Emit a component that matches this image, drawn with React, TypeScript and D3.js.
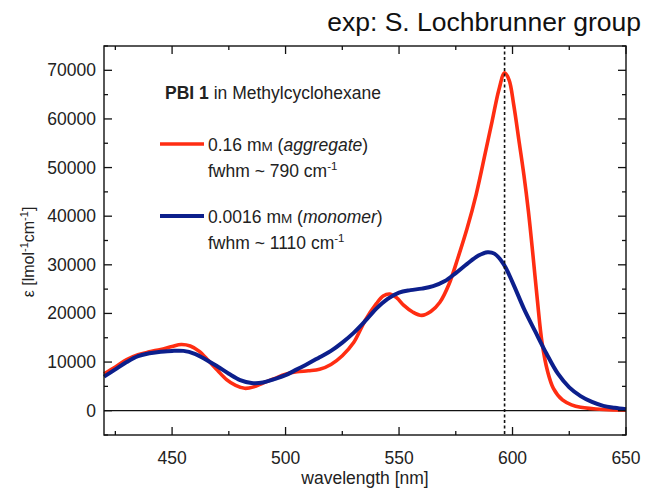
import React from "react";
import * as d3 from "d3";

const aggWl = [420,425,430,435,440,445,450,454,458,462,466,470,474,478,482,486,490,495,500,505,510,515,520,525,530,535,540,543,546,549,552,556,560,564,568,572,576,580,584,588,591,594,596.5,598.5,600.5,603,605,607,609,611,613,615.5,618,622,626,630,640,650];
const aggEps = [7600,9000,10500,11500,12100,12600,13200,13600,13300,12200,10300,8300,6400,5200,4600,4900,5700,6600,7500,8000,8200,8500,9500,11300,14000,18500,22000,23600,24000,23200,21700,20300,19600,20400,22300,26000,31500,37500,44500,53000,59500,66000,69500,68000,63000,55000,48500,41000,32000,22500,14000,8000,4600,2200,1200,700,250,100];

const monWl = [420,425,430,435,440,445,450,455,460,465,470,475,480,485,490,495,500,505,510,515,520,525,530,535,540,545,550,555,560,565,570,575,580,585,589,592,596,600,605,610,615,620,625,630,635,640,645,650];
const monEps = [7000,8500,10000,11200,11800,12100,12300,12300,11700,10500,9100,7600,6300,5700,5800,6500,7300,8500,9700,11000,12300,14000,16000,18400,21000,23000,24300,24800,25100,25600,26600,28300,30200,31900,32600,32300,30200,26400,21000,16300,11700,7600,4800,3000,1800,1000,600,300];

const xMajor = [450,500,550,600,650];
const xMinor = [425,475,525,575,625];
const yMajor = [0,10000,20000,30000,40000,50000,60000,70000];
const yMinor = [-5000,5000,15000,25000,35000,45000,55000,65000,75000];
const peakWl = 596.5;

const FONT = "'Liberation Sans', Arial, sans-serif";

export default function App() {
  const L = 104, R = 626, T = 46, B = 435;
  const x = d3.scaleLinear().domain([420, 650]).range([L, R]);
  const y = d3.scaleLinear().domain([-5000, 75000]).range([B, T]);
  const line = d3.line<[number, number]>().x(d => x(d[0])).y(d => y(d[1])).curve(d3.curveCatmullRom.alpha(0.5));
  const agg = aggWl.map((w, i) => [w, aggEps[i]] as [number, number]);
  const mon = monWl.map((w, i) => [w, monEps[i]] as [number, number]);
  const red = "#ff2d12";
  const blue = "#0c1f8c";
  const fs = 17.5;
  return (
    <svg width={650} height={497} style={{ position: "absolute", left: 0, top: 0, background: "#fff" }} fontFamily={FONT}>
      <rect x={0} y={0} width={650} height={497} fill="#fff" />
      <text x={641} y={31} textAnchor="end" fontSize={26.5} fill="#111">exp: S. Lochbrunner group</text>
      {/* zero line */}
      <line x1={L} x2={R} y1={y(0)} y2={y(0)} stroke="#111" strokeWidth={1.3} />
      {/* curves */}
      <path d={line(agg) || ""} fill="none" stroke={red} strokeWidth={3.6} strokeLinejoin="round" />
      <path d={line(mon) || ""} fill="none" stroke={blue} strokeWidth={4} strokeLinejoin="round" />
      {/* dashed peak line */}
      <line x1={x(peakWl)} x2={x(peakWl)} y1={T} y2={B} stroke="#111" strokeWidth={1.6} strokeDasharray="3,2.5" />
      {/* frame */}
      <rect x={L} y={T} width={R - L} height={B - T} fill="none" stroke="#111" strokeWidth={1.4} />
      {/* x ticks */}
      {xMajor.map(v => (
        <g key={"xM" + v}>
          <line x1={x(v)} x2={x(v)} y1={B} y2={B - 8} stroke="#111" strokeWidth={1.3} />
          <line x1={x(v)} x2={x(v)} y1={T} y2={T + 8} stroke="#111" strokeWidth={1.3} />
          <text x={x(v)} y={464} textAnchor="middle" fontSize={fs} fill="#222">{v}</text>
        </g>
      ))}
      {xMinor.map(v => (
        <g key={"xm" + v}>
          <line x1={x(v)} x2={x(v)} y1={B} y2={B - 4} stroke="#111" strokeWidth={1.3} />
          <line x1={x(v)} x2={x(v)} y1={T} y2={T + 4} stroke="#111" strokeWidth={1.3} />
        </g>
      ))}
      {/* y ticks */}
      {yMajor.map(v => (
        <g key={"yM" + v}>
          <line x1={L} x2={L + 8} y1={y(v)} y2={y(v)} stroke="#111" strokeWidth={1.3} />
          <line x1={R} x2={R - 8} y1={y(v)} y2={y(v)} stroke="#111" strokeWidth={1.3} />
          <text x={96} y={y(v) + 6} textAnchor="end" fontSize={fs} fill="#222">{v}</text>
        </g>
      ))}
      {yMinor.map(v => (
        <g key={"ym" + v}>
          <line x1={L} x2={L + 4} y1={y(v)} y2={y(v)} stroke="#111" strokeWidth={1.3} />
          <line x1={R} x2={R - 4} y1={y(v)} y2={y(v)} stroke="#111" strokeWidth={1.3} />
        </g>
      ))}
      {/* axis labels */}
      <text x={(L + R) / 2} y={484} textAnchor="middle" fontSize={fs} fill="#222">wavelength [nm]</text>
      <text transform="translate(34,252) rotate(-90)" textAnchor="middle" fontSize={16} fill="#222">
        ε [lmol<tspan dy={-6} fontSize={11}>-1</tspan><tspan dy={6}>cm</tspan><tspan dy={-6} fontSize={11}>-1</tspan><tspan dy={6}>]</tspan>
      </text>
      {/* legend */}
      <text x={165} y={99} fontSize={fs} fill="#222">
        <tspan fontWeight="bold">PBI 1</tspan> in Methylcyclohexane
      </text>
      <line x1={160} x2={204} y1={144} y2={144} stroke={red} strokeWidth={3.6} />
      <text x={208} y={151} fontSize={fs} fill="#222">
        0.16 m<tspan fontSize={13.5}>M</tspan> (<tspan fontStyle="italic">aggregate</tspan>)
      </text>
      <text x={208} y={177} fontSize={fs} fill="#222">
        fwhm ~ 790 cm<tspan dy={-7} fontSize={11.5}>-1</tspan>
      </text>
      <line x1={160} x2={204} y1={216} y2={216} stroke={blue} strokeWidth={4} />
      <text x={208} y={223} fontSize={fs} fill="#222">
        0.0016 m<tspan fontSize={13.5}>M</tspan> (<tspan fontStyle="italic">monomer</tspan>)
      </text>
      <text x={208} y={249} fontSize={fs} fill="#222">
        fwhm ~ 1110 cm<tspan dy={-7} fontSize={11.5}>-1</tspan>
      </text>
    </svg>
  );
}
